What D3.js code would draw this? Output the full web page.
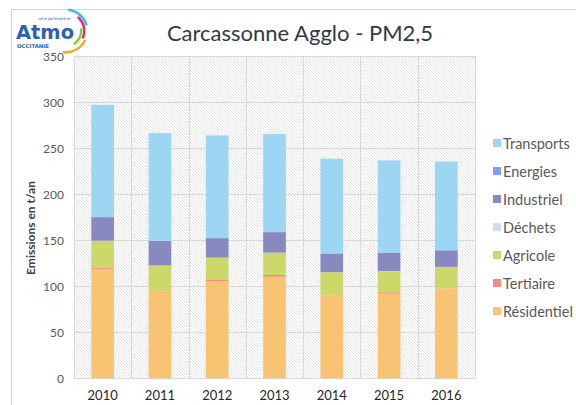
<!DOCTYPE html>
<html>
<head>
<meta charset="utf-8">
<script src="https://cdn.jsdelivr.net/npm/d3@7"></script>
<style>
  html, body { margin: 0; padding: 0; background: #ffffff; }
  svg { display: block; }
</style>
</head>
<body>
<svg id="chart" width="576" height="405"></svg>
<script>
// ---- data ----
const years = ["2010", "2011", "2012", "2013", "2014", "2015", "2016"];
const residentiel = [119, 94.5, 105.4, 110.5, 90, 92, 97.4];
const tertiaire   = [1.5, 0.3, 1.4, 1.8, 0.3, 1.5, 0.3];
const agricole    = [29, 27.8, 24.3, 24.2, 25, 23, 23.3];
const dechets     = [0.1, 0.1, 0.1, 0.1, 0.1, 0.1, 0.1];
const industriel  = [25.5, 26.6, 21.1, 22.2, 20.2, 20, 18];
const energies    = [0.2, 0.2, 0.2, 0.2, 0.2, 0.2, 0.2];
const transports  = [122, 117, 111.5, 106.5, 103, 100, 96.4];
const seriesNames = ["Résidentiel", "Tertiaire", "Agricole", "Déchets", "Industriel", "Energies", "Transports"];
const seriesColors = ["#f9c374", "#f08c80", "#ccd96a", "#d6dce6", "#8789c0", "#7c9ef4", "#9dd6f2"];
const yTicks = [0, 50, 100, 150, 200, 250, 300, 350];
const chartTitle = "Carcassonne Agglo - PM2,5";
const yTitle = "Emissions en t/an";

const seriesValues = [residentiel, tertiaire, agricole, dechets, industriel, energies, transports];
const table = years.map((y, i) => {
  const row = { year: y };
  seriesNames.forEach((n, k) => row[n] = seriesValues[k][i]);
  return row;
});

const svg = d3.select("#chart");
const plot = { left: 74, right: 475, top: 56.3, bottom: 378.3 };

// outer chart border
svg.append("rect").attr("x", 11.5).attr("y", 9.5).attr("width", 600).attr("height", 420)
  .attr("fill", "#fff").attr("stroke", "#d4d4d4").attr("stroke-width", 1);

// hatch pattern
const defs = svg.append("defs");
const pat = defs.append("pattern").attr("id", "hatch").attr("patternUnits", "userSpaceOnUse")
  .attr("width", 3).attr("height", 3);
pat.append("rect").attr("width", 3).attr("height", 3).attr("fill", "#ffffff");
pat.append("path").attr("d", "M0,0 L3,3 M-1,2 L1,4 M2,-1 L4,1")
  .attr("stroke", "#e0e0e0").attr("stroke-width", 0.8);

const x = d3.scaleBand().domain(years).range([plot.left, plot.right]).padding(0);
const y = d3.scaleLinear().domain([0, 350]).range([plot.bottom, plot.top]);

svg.append("rect").attr("x", plot.left).attr("y", plot.top)
  .attr("width", plot.right - plot.left).attr("height", plot.bottom - plot.top)
  .attr("fill", "url(#hatch)");

// horizontal gridlines
svg.append("g").selectAll("line").data(yTicks).join("line")
  .attr("x1", plot.left).attr("x2", plot.right)
  .attr("y1", d => Math.round(y(d)) + 0.5).attr("y2", d => Math.round(y(d)) + 0.5)
  .attr("stroke", "#d9d9d9").attr("stroke-width", 1);

// vertical gridlines at category boundaries
const bounds = years.map(d => x(d)).concat([plot.right]);
svg.append("g").selectAll("line").data(bounds).join("line")
  .attr("x1", d => Math.round(d) + 0.5).attr("x2", d => Math.round(d) + 0.5)
  .attr("y1", plot.top).attr("y2", plot.bottom)
  .attr("stroke", "#d9d9d9").attr("stroke-width", 1);

// stacked bars
const stack = d3.stack().keys(seriesNames)(table);
const barW = x.bandwidth() * 0.396;
const layers = svg.append("g").selectAll("g").data(stack).join("g")
  .attr("fill", (d, i) => seriesColors[i]);
layers.selectAll("rect").data(d => d).join("rect")
  .attr("x", d => x(d.data.year) + x.bandwidth() / 2 - barW / 2)
  .attr("width", barW)
  .attr("y", d => y(d[1]))
  .attr("height", d => Math.max(0, y(d[0]) - y(d[1])));

// y axis labels
const yAxis = d3.axisLeft(y).tickValues(yTicks).tickSize(0).tickPadding(10);
const gy = svg.append("g").attr("transform", `translate(${plot.left},0)`).call(yAxis);
gy.select(".domain").remove();
gy.selectAll("text").attr("font-family", "Lato, 'Open Sans', sans-serif")
  .attr("font-size", 12).attr("fill", "#595959");

// x axis labels
const xAxis = d3.axisBottom(x).tickSize(0).tickPadding(12);
const gx = svg.append("g").attr("transform", `translate(0,${plot.bottom})`).call(xAxis);
gx.select(".domain").remove();
gx.selectAll("text").attr("font-family", "Lato, 'Open Sans', sans-serif")
  .attr("font-size", 13).attr("fill", "#262626");

// y title
svg.append("text").attr("transform", `translate(35,228) rotate(-90)`)
  .attr("text-anchor", "middle").attr("font-family", "Lato, 'Open Sans', sans-serif")
  .attr("font-weight", "bold").attr("font-size", 12).attr("fill", "#404040").text(yTitle);

// title
svg.append("text").attr("x", 300).attr("y", 41).attr("text-anchor", "middle")
  .attr("font-family", "Lato, 'Open Sans', sans-serif").attr("font-size", 22)
  .attr("fill", "#2f3a4a").text(chartTitle);

// legend (top to bottom: reverse of stack order)
const legendItems = seriesNames.map((n, i) => ({ n, c: seriesColors[i] })).reverse();
const lg = svg.append("g").selectAll("g").data(legendItems).join("g")
  .attr("transform", (d, i) => `translate(493,${144 + i * 28})`);
lg.append("rect").attr("x", 0).attr("y", -5).attr("width", 8).attr("height", 8).attr("fill", d => d.c);
lg.append("text").attr("x", 10).attr("y", 5).attr("font-family", "Lato, 'Open Sans', sans-serif")
  .attr("font-size", 14.5).attr("fill", "#595959").text(d => d.n);

// logo
const logo = svg.append("g");
const arcGen = d3.arc();
const arcs = [
  { r0: 20, r1: 22.5, a0: 0.1, a1: 1.3, c: "#3fb8e8" },
  { r0: 17, r1: 19.5, a0: 0.7, a1: 2.0, c: "#e5316a" },
  { r0: 14, r1: 16.5, a0: 1.4, a1: 2.6, c: "#8dc63f" },
  { r0: 20, r1: 22.5, a0: 2.0, a1: 3.3, c: "#f7a823" }
];
logo.selectAll("path").data(arcs).join("path")
  .attr("transform", "translate(66,31)")
  .attr("d", d => arcGen({ innerRadius: d.r0, outerRadius: d.r1, startAngle: d.a0, endAngle: d.a1 }))
  .attr("fill", d => d.c);
logo.append("text").attr("x", 16).attr("y", 39).attr("font-family", "'DejaVu Sans', sans-serif")
  .attr("font-weight", "bold").attr("font-size", 19).attr("fill", "#2e62ad")
  .attr("textLength", 58).attr("lengthAdjust", "spacingAndGlyphs").text("Atmo");
logo.append("text").attr("x", 17).attr("y", 47.5).attr("font-family", "'DejaVu Sans', sans-serif")
  .attr("font-weight", "bold").attr("font-size", 5).attr("fill", "#2e62ad")
  .attr("textLength", 32).attr("lengthAdjust", "spacingAndGlyphs").text("OCCITANIE");
logo.append("text").attr("x", 38).attr("y", 19.5).attr("font-family", "'DejaVu Sans', sans-serif")
  .attr("font-size", 4).attr("fill", "#2e62ad")
  .attr("textLength", 33).attr("lengthAdjust", "spacingAndGlyphs").text("votre partenaire air");
</script>
</body>
</html>
